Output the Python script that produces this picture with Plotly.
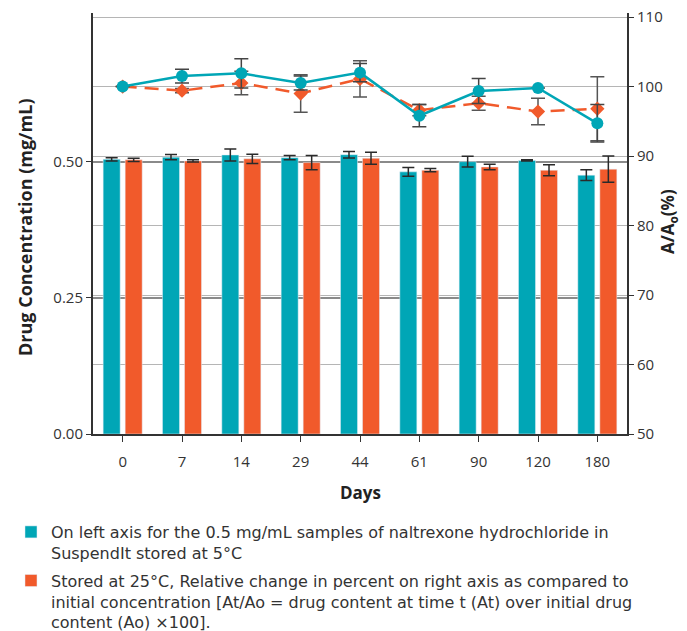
import plotly.graph_objects as go

days = ["0", "7", "14", "29", "44", "61", "90", "120", "180"]

conc_5C = [0.504, 0.508, 0.512, 0.507, 0.5125, 0.481, 0.4997, 0.502, 0.475]
conc_5C_err = [0.003, 0.005, 0.011, 0.004, 0.006, 0.008, 0.010, 0.001, 0.010]
conc_25C = [0.503, 0.501, 0.505, 0.498, 0.506, 0.484, 0.490, 0.484, 0.486]
conc_25C_err = [0.003, 0.002, 0.0085, 0.013, 0.011, 0.003, 0.005, 0.010, 0.024]

rel_5C = [100.0, 101.5, 101.9, 100.5, 102.0, 95.8, 99.35, 99.8, 94.7]
rel_5C_err = [0, 1.0, 2.1, 1.0, 1.3, 1.6, 1.8, 0, 2.7]
rel_25C = [100.0, 99.4, 100.5, 99.0, 101.1, 96.6, 97.6, 96.4, 96.8]
rel_25C_err = [0, 0.3, 1.7, 2.7, 2.6, 0.8, 1.0, 1.9, 4.6]

legend_5C = "On left axis for the 0.5 mg/mL samples of naltrexone hydrochloride in<br>SuspendIt stored at 5°C"
legend_25C = ("Stored at 25°C, Relative change in percent on right axis as compared to<br>"
              "initial concentration [At/Ao = drug content at time t (At) over initial drug<br>"
              "content (Ao) ×100].")

TEAL = "#00a6b6"
ORANGE = "#f15a2b"
TXT = "#333333"
FONT = "Open Sans"
LFONT = "DejaVu Sans"

fig = go.Figure()

fig.add_trace(go.Bar(
    x=days, y=conc_5C, name=legend_5C, marker_color=TEAL, legendgroup="a",
    error_y=dict(type="data", array=conc_5C_err, color="#2a2a2a", thickness=1.5, width=6),
))
fig.add_trace(go.Bar(
    x=days, y=conc_25C, name=legend_25C, marker_color=ORANGE, legendgroup="b",
    error_y=dict(type="data", array=conc_25C_err, color="#2a2a2a", thickness=1.5, width=6),
))
fig.add_trace(go.Scatter(
    x=days, y=rel_25C, yaxis="y2", mode="lines+markers", showlegend=False,
    line=dict(color=ORANGE, width=2.5, dash="14px,8px"),
    marker=dict(symbol="diamond", size=11, color=ORANGE),
    error_y=dict(type="data", array=rel_25C_err, color="#555555", thickness=1.5, width=7),
))
fig.add_trace(go.Scatter(
    x=days, y=rel_5C, yaxis="y2", mode="lines+markers", showlegend=False,
    line=dict(color=TEAL, width=2.5),
    marker=dict(symbol="circle", size=12, color=TEAL),
    error_y=dict(type="data", array=rel_5C_err, color="#444444", thickness=1.5, width=7),
))

fig.update_layout(
    width=687, height=631,
    margin=dict(l=93, r=60, t=13, b=197, autoexpand=False),
    paper_bgcolor="white", plot_bgcolor="white",
    font=dict(family=FONT, size=15, color=TXT),
    barmode="group", bargap=0.258, bargroupgap=0.227,
    xaxis=dict(
        type="category", range=[-0.5, 8.5],
        showline=True, linecolor=TXT, linewidth=1.5,
        ticks="outside", ticklen=6, tickcolor=TXT, tickwidth=1.2,
        ticklabelstandoff=7, showgrid=False,
        tickfont=dict(size=15, color=TXT),
    ),
    yaxis=dict(
        range=[0, 0.7725], tickvals=[0, 0.25, 0.5], ticktext=["0.00", "0.25", "0.50"],
        showline=True, linecolor=TXT, linewidth=2,
        ticks="outside", ticklen=5, tickcolor=TXT,
        showgrid=True, gridcolor="#8a8a8a", gridwidth=1.5, zeroline=False,
        tickfont=dict(size=15, color=TXT),
    ),
    yaxis2=dict(
        overlaying="y", side="right", range=[50, 110.58],
        tickvals=[50, 60, 70, 80, 90, 100, 110],
        showline=True, linecolor=TXT, linewidth=2,
        ticks="outside", ticklen=5, tickcolor=TXT,
        showgrid=True, gridcolor="#b5b5b5", gridwidth=1, zeroline=False,
        tickfont=dict(size=15, color=TXT),
    ),
    legend=dict(
        xref="container", yref="container", x=0.016, y=1 - 515 / 631,
        xanchor="left", yanchor="top", valign="top",
        font=dict(family=LFONT, size=16, color=TXT),
        tracegroupgap=4, bgcolor="rgba(0,0,0,0)",
    ),
    annotations=[
        dict(text="<b>Days</b>", xref="paper", yref="paper", x=0.5, y=(631 - 492 - 197) / 421,
             showarrow=False, font=dict(family=FONT, size=17, color="#222"),
             xanchor="center", yanchor="middle"),
        dict(text="<b>Drug Concentration (mg/mL)</b>", xref="paper", yref="paper",
             x=(25 - 93) / 534, y=0.5 + (223.5 - 228) / 421, textangle=-90, showarrow=False,
             font=dict(family=FONT, size=18, color="#222"), xanchor="center", yanchor="middle"),
        dict(text="<b>A/A<sub>o</sub>(%)</b>", xref="paper", yref="paper",
             x=(668 - 93) / 534, y=0.5 + (223.5 - 222) / 421, textangle=-90, showarrow=False,
             font=dict(family=FONT, size=17, color="#222"), xanchor="center", yanchor="middle"),
    ],
)

fig.write_html("out.html")
